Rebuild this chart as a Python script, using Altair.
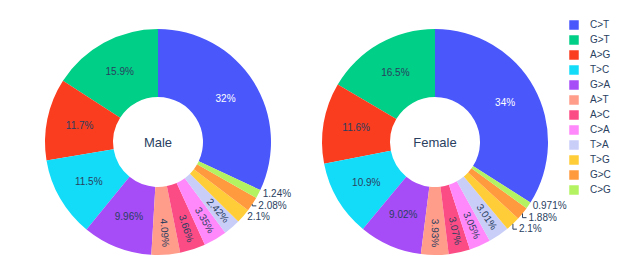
import math
import altair as alt
import pandas as pd

categories = ["C>T", "G>T", "A>G", "T>C", "G>A", "A>T", "A>C", "C>A", "T>A", "T>G", "G>C", "C>G"]
male_values = [32, 15.9, 11.7, 11.5, 9.96, 4.09, 3.66, 3.35, 2.42, 2.1, 2.08, 1.24]
female_values = [34, 16.5, 11.6, 10.9, 9.02, 3.93, 3.07, 3.05, 3.01, 2.1, 1.88, 0.971]
slice_order = ["C>T", "C>G", "G>C", "T>G", "T>A", "C>A", "A>C", "A>T", "G>A", "T>C", "A>G", "G>T"]
colors = ["#4a57fb", "#00cf87", "#fa3c1f", "#12dcf8", "#a64df7", "#ff9c8a",
          "#fc4c85", "#ff88fa", "#c9cef8", "#ffcd37", "#ff9a3e", "#b3f261"]
groups = ["Male", "Female"]

rows = []
for g, vals in zip(groups, [male_values, female_values]):
    for c, v in zip(categories, vals):
        rows.append({"group": g, "category": c, "value": v, "rank": slice_order.index(c)})
df = pd.DataFrame(rows)
titles = pd.DataFrame({"group": groups})

FONT = "Liberation Sans"
DARK = "#2a3f5f"
R_IN, R_OUT, R_LABEL = 45, 113, 118
theta_scale = alt.Scale(domain=[0, 1], range=[0, 2 * math.pi])
color_scale = alt.Scale(domain=categories, range=colors)


def donut(group, cx, cy):
    base = (
        alt.Chart(df)
        .transform_filter(alt.datum.group == group)
        .transform_joinaggregate(total="sum(value)")
        .transform_calculate(frac="datum.value / datum.total")
        .transform_window(cum="sum(frac)", sort=[alt.SortField("rank", order="ascending")], frame=[None, 0])
        .transform_calculate(
            start="datum.cum - datum.frac",
            mid="datum.cum - datum.frac / 2",
            label="format(datum.frac * 100, '.3~r') + '%'",
            ang="datum.mid * 360 - 90",
        )
    )
    arcs = base.mark_arc(innerRadius=R_IN, outerRadius=R_OUT).encode(
        theta=alt.Theta("start:Q", scale=theta_scale, stack=False),
        theta2="cum:Q",
        color=alt.Color(
            "category:N",
            scale=color_scale,
            legend=alt.Legend(
                title=None, orient="none", legendX=561, legendY=12, symbolType="square",
                symbolSize=90, symbolStrokeWidth=0, labelFont=FONT, labelFontSize=10,
                labelColor=DARK, labelOffset=11, rowPadding=5, padding=0,
            ),
        ),
        x=alt.value(cx),
        y=alt.value(cy),
    )
    big = base.transform_filter("datum.frac >= 0.05").mark_text(
        radius=80, font=FONT, fontSize=10, align="center", baseline="middle"
    ).encode(
        theta=alt.Theta("mid:Q", scale=theta_scale, stack=False),
        text="label:N",
        color=alt.condition("datum.frac > 0.25", alt.value("white"), alt.value(DARK)),
        x=alt.value(cx),
        y=alt.value(cy),
    )
    radial = base.transform_filter("datum.frac < 0.05 && datum.frac >= 0.022").mark_text(
        radius=91, font=FONT, fontSize=10, align="center", baseline="middle", color=DARK
    ).encode(
        theta=alt.Theta("mid:Q", scale=theta_scale, stack=False),
        angle=alt.Angle("ang:Q", scale=None),
        text="label:N",
        x=alt.value(cx),
        y=alt.value(cy),
    )
    # outside labels, pushed apart so that they do not overlap
    out = (
        base.transform_filter("datum.frac < 0.022")
        .transform_calculate(
            sx="sin(datum.mid * 2 * PI)",
            cyv="-cos(datum.mid * 2 * PI)",
        )
        .transform_calculate(nat_y=f"datum.cyv * {R_LABEL}")
        .transform_window(k="rank()", sort=[alt.SortField("rank", order="ascending")])
        .transform_joinaggregate(y0="min(nat_y)")
        .transform_calculate(yoff="max(0, datum.y0 + (datum.k - 1) * 11.5 - datum.nat_y)")
        .transform_calculate(
            edge_x=f"{cx} + {R_OUT} * datum.sx",
            edge_y=f"{cy} + {R_OUT} * datum.cyv",
            label_x=f"datum.yoff > 0.5 ? {cx} + {R_OUT} * datum.sx + 6 : {cx} + {R_LABEL} * datum.sx",
            label_y=f"{cy} + datum.nat_y + datum.yoff - 2",
        )
    )
    outside = out.mark_text(
        font=FONT, fontSize=10, align="left", baseline="middle", color=DARK
    ).encode(
        x=alt.X("label_x:Q", scale=None),
        y=alt.Y("label_y:Q", scale=None),
        text="label:N",
    )
    lead = out.transform_filter("datum.yoff > 0.5")
    vline = lead.mark_rule(color=DARK, strokeWidth=1).encode(
        x=alt.X("edge_x:Q", scale=None),
        y=alt.Y("edge_y:Q", scale=None),
        y2="label_y:Q",
    )
    hline = lead.transform_calculate(tip_x="datum.label_x - 2").mark_rule(color=DARK, strokeWidth=1).encode(
        x=alt.X("edge_x:Q", scale=None),
        x2="tip_x:Q",
        y=alt.Y("label_y:Q", scale=None),
    )
    center = alt.Chart(titles).transform_filter(alt.datum.group == group).mark_text(
        font=FONT, fontSize=13, color=DARK, align="center", baseline="middle"
    ).encode(text="group:N", x=alt.value(cx), y=alt.value(cy + 1))
    return [arcs, big, radial, outside, vline, hline, center]


layers = donut("Male", 150, 134) + donut("Female", 427, 134)
chart = (
    alt.layer(*layers)
    .properties(width=614, height=262, padding=0, autosize=alt.AutoSizeParams(type="none"))
    .configure_view(stroke=None)
)
chart.save("out.html", embed_options={"renderer": "svg", "actions": False})
